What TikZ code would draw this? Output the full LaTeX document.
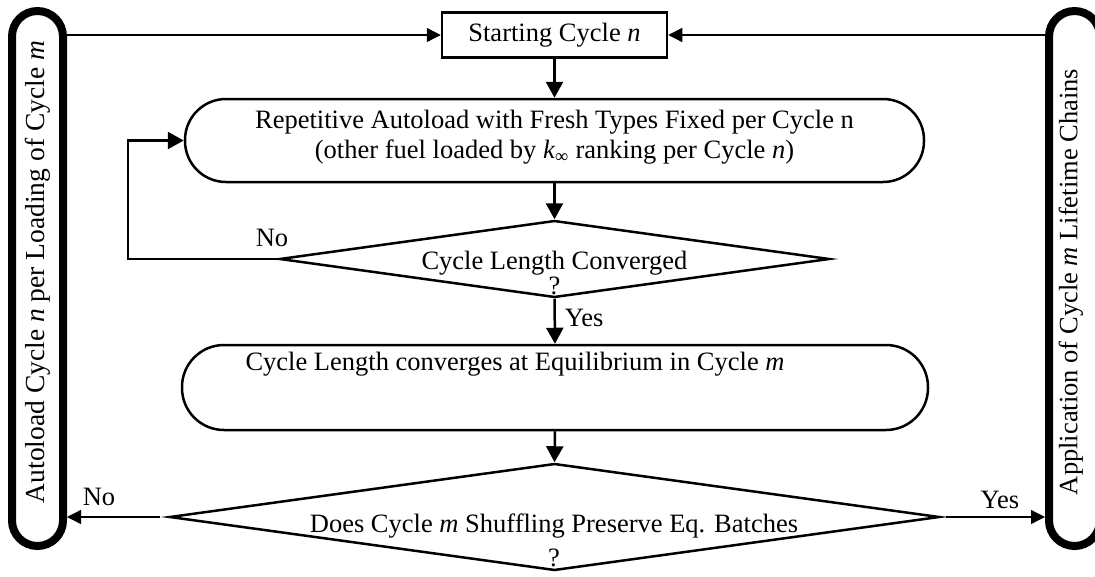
\documentclass[tikz,border=0pt]{standalone}
\usepackage{fontspec}
\setmainfont{Liberation Serif}
\usetikzlibrary{arrows.meta,shapes.geometric}

\begin{document}
\begin{tikzpicture}[x=1pt,y=-1pt,
  font=\fontsize{26.5}{30}\selectfont,
  procbox/.style={draw,line width=2.5pt,inner sep=0pt,align=center},
  roundbox/.style={procbox,rounded corners=41pt},
  decision/.style={draw,diamond,line width=2.5pt,inner sep=0pt},
  pill/.style={draw,line width=8pt,rounded corners=25.5pt,inner sep=0pt,
    minimum width=51pt,minimum height=535pt},
  txt/.style={inner sep=0pt,align=center},
  flow/.style={line width=2.5pt,-{Triangle[width=17pt,length=16pt]}},
  thinflow/.style={line width=1.3pt,-{Triangle[width=14pt,length=14pt]}},
]
\useasboundingbox (0,0) rectangle (1095,576);

% side pills with their rotated captions
\node[pill] (lp) at (37.5,278.5) {};
\node[txt,rotate=90,font=\fontsize{27.5}{30}\selectfont] (lpt) at (38,272)
  {Autoload Cycle \textit{n} per Loading of Cycle \textit{m}};
\node[pill] (rp) at (1074.5,278.5) {};
\node[txt,rotate=90] (rpt) at (1071,282)
  {Application of Cycle \textit{m} Lifetime Chains};

% main column
\node[procbox,minimum width=225pt,minimum height=45pt] (start) at (554.5,35)
  {Starting Cycle \textit{n}};
\node[roundbox,minimum width=739pt,minimum height=83pt] (rep) at (554.5,140.5) {};
\node[txt] (rept) at (554.5,137)
  {Repetitive Autoload with Fresh Types Fixed per Cycle n\\
   (other fuel loaded by \textit{k}\textsubscript{∞} ranking per Cycle \textit{n})};
\node[decision,minimum width=550pt,minimum height=77pt] (d1) at (554.5,259) {};
\node[txt,font=\fontsize{26.5}{24.5}\selectfont] (d1t) at (554.5,273)
  {Cycle Length Converged\\?};
\node[roundbox,rounded corners=42pt,minimum width=746pt,minimum height=85pt]
  (rep2) at (555,387.5) {};
\node[txt] (rep2t) at (515,364)
  {Cycle Length converges at Equilibrium in Cycle \textit{m}};
\node[decision,minimum width=770pt,minimum height=107pt] (d2) at (554.5,517) {};
\node[txt,font=\fontsize{26.5}{34}\selectfont] (d2t) at (554,540)
  {Does Cycle \textit{m} Shuffling Preserve Eq. Batches\\?};

% connectors
\coordinate (loopc) at (128,255);
\draw[thinflow] (start.west -| lp.east) -- (start.west);
\draw[thinflow] (start.east -| rp.west) -- (start.east);
\draw[flow] (start.south) -- (rep.north);
\draw[flow] (rep.south) -- (d1.north);
\draw[flow] (d1.west) -- (d1.west -| loopc) |- (rep.west);
\node[txt] (no1) at (272,238) {No};
\draw[flow] (d1.south) -- (rep2.north)
  node[pos=0.42,right=9pt,txt] (yes1) {Yes};
\draw[flow] (rep2.south) -- (d2.north);
\draw[thinflow] ([xshift=-8pt]d2.west) -- (d2.west -| lp.east);
\node[txt] (no2) at (99,497) {No};
\draw[thinflow] ([xshift=5pt]d2.east) -- (d2.east -| rp.west);
\node[txt] (yes2) at (1000,500) {Yes};
\end{tikzpicture}
\end{document}
